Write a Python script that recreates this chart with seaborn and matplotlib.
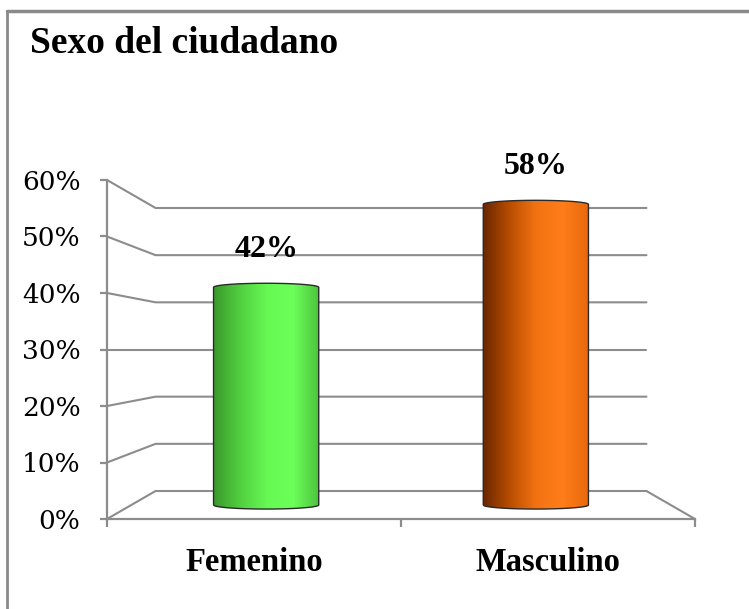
"""
Sexo del ciudadano - gráfico de cilindros (estilo Excel 3D)
"""
import numpy as np
import pandas as pd
import matplotlib.pyplot as plt
import seaborn as sns
from matplotlib.colors import LinearSegmentedColormap
from matplotlib.path import Path
from matplotlib.patches import PathPatch
from matplotlib.lines import Line2D

# datos
title = "Sexo del ciudadano"
categories = ["Femenino", "Masculino"]
shares = [0.42, 0.58]
value_labels = ["42%", "58%"]
y_ticks = [0.0, 0.1, 0.2, 0.3, 0.4, 0.5, 0.6]
y_tick_labels = ["0%", "10%", "20%", "30%", "40%", "50%", "60%"]

# estilo
base_colors = ["#5fe84a", "#f06c10"]
shades = [
    ["#3a9a2b", "#52d040", "#66f853", "#6cff5a", "#4cc03c"],
    ["#6a2600", "#b84d00", "#f27212", "#ff7d1a", "#e8680c"],
]
grid_color = "#8c8c8c"
serif_bold = dict(family="Liberation Serif", fontweight="bold", color="black")

# perspectiva: los cilindros están en el plano medio (coords de datos),
# el fondo y el eje frontal se escalan alrededor del centro
FRONT, BACK = 1.09, 0.91
X_MID, Y_MID = 0.5, 0.3


def plane(x, y, k):
    return X_MID + (x - X_MID) * k, Y_MID + (y - Y_MID) * k


sns.set_theme(style="white")
plt.rcParams["font.family"] = ["DejaVu Serif"]

fig = plt.figure(figsize=(7.49, 6.09), dpi=100)
ax = fig.add_axes([107 / 749, 90 / 609, 588 / 749, 339 / 609])

df = pd.DataFrame({"sexo": categories, "pct": shares})
sns.barplot(data=df, x="sexo", y="pct", hue="sexo", palette=base_colors,
            width=0.39, legend=False, ax=ax)

# paredes: rejilla del fondo y pared izquierda
for v in y_ticks:
    fx, fy = plane(-0.5, v, FRONT)
    bx0, by = plane(-0.5, v, BACK)
    bx1, _ = plane(1.5, v, BACK)
    ax.plot([fx, bx0, bx1], [fy, by, by], color=grid_color, lw=1.5,
            zorder=1, clip_on=False)
# borde derecho del suelo
bx, by = plane(1.5, 0, BACK)
fx, fy = plane(1.5, 0, FRONT)
ax.plot([bx, fx], [by, fy], color=grid_color, lw=1.5, zorder=1, clip_on=False)

# cilindros con degradado
ry = 0.0078
for i, cont in enumerate(ax.containers):
    cmap = LinearSegmentedColormap.from_list(f"cyl{i}", shades[i])
    for bar in cont:
        x, w, h, y0 = bar.get_x(), bar.get_width(), bar.get_height(), bar.get_y()
        cx = x + w / 2
        t_top = np.linspace(np.pi, 0, 40)
        t_bot = np.linspace(0, -np.pi, 40)
        verts = ([(x, y0), (x, y0 + h)]
                 + list(zip(cx + w / 2 * np.cos(t_top), y0 + h + ry * np.sin(t_top)))
                 + [(x + w, y0)]
                 + list(zip(cx + w / 2 * np.cos(t_bot), y0 + ry * np.sin(t_bot)))
                 + [(x, y0)])
        outline = PathPatch(Path(verts), facecolor="none", edgecolor="#2a2a2a",
                            lw=1.0, zorder=3, clip_on=False)
        ax.add_patch(outline)
        grad = np.linspace(0, 1, 256)[None, :]
        im = ax.imshow(grad, cmap=cmap, aspect="auto", zorder=2.5,
                       extent=[x, x + w, y0 - ry, y0 + h + ry])
        im.set_clip_path(outline)
        bar.set_facecolor("none")
        bar.set_edgecolor("none")
    ax.bar_label(cont, labels=[value_labels[i]], padding=17, fontsize=23,
                 **serif_bold)

# ejes frontales
x_left, y_bottom = plane(-0.5, 0, FRONT)
x_right, y_top = plane(1.5, 0.6, FRONT)
ax.set_xlim(x_left, x_right)
ax.set_ylim(y_bottom, y_top)

for side in ["top", "right"]:
    ax.spines[side].set_visible(False)
for side in ["left", "bottom"]:
    ax.spines[side].set_color(grid_color)
    ax.spines[side].set_linewidth(1.6)

front_ticks = [plane(0, v, FRONT)[1] for v in y_ticks]
ax.set_yticks(front_ticks, labels=y_tick_labels)
ax.tick_params(axis="y", left=True, length=5, width=1.6, color=grid_color,
               pad=14, labelsize=19, labelcolor="black")

bounds = [plane(b, 0, FRONT)[0] for b in [-0.5, 0.5, 1.5]]
centers = [plane(c, 0, FRONT)[0] for c in range(len(categories))]
ax.set_xticks(bounds, labels=["", "", ""])
ax.set_xticks(centers, labels=categories, minor=True)
ax.tick_params(axis="x", which="major", bottom=True, length=6, width=1.6,
               color=grid_color)
ax.tick_params(axis="x", which="minor", bottom=True, length=0, pad=20,
               labelcolor="black")
for lab in ax.get_xticklabels(minor=True):
    lab.set_family("Liberation Serif")
    lab.set_fontweight("bold")
    lab.set_fontsize(23.5)
ax.set_xlabel("")
ax.set_ylabel("")
ax.patch.set_alpha(0)

# título y marco
fig.text(30 / 749, 1 - 53 / 609, title, fontsize=27, va="baseline",
         **serif_bold)
fig.add_artist(Line2D([7 / 749, 1], [1 - 11 / 609] * 2, color="#8a8a8a", lw=2.5))
fig.add_artist(Line2D([7 / 749] * 2, [0, 1 - 11 / 609], color="#8a8a8a", lw=2))

fig.savefig("out.png", dpi=100)
